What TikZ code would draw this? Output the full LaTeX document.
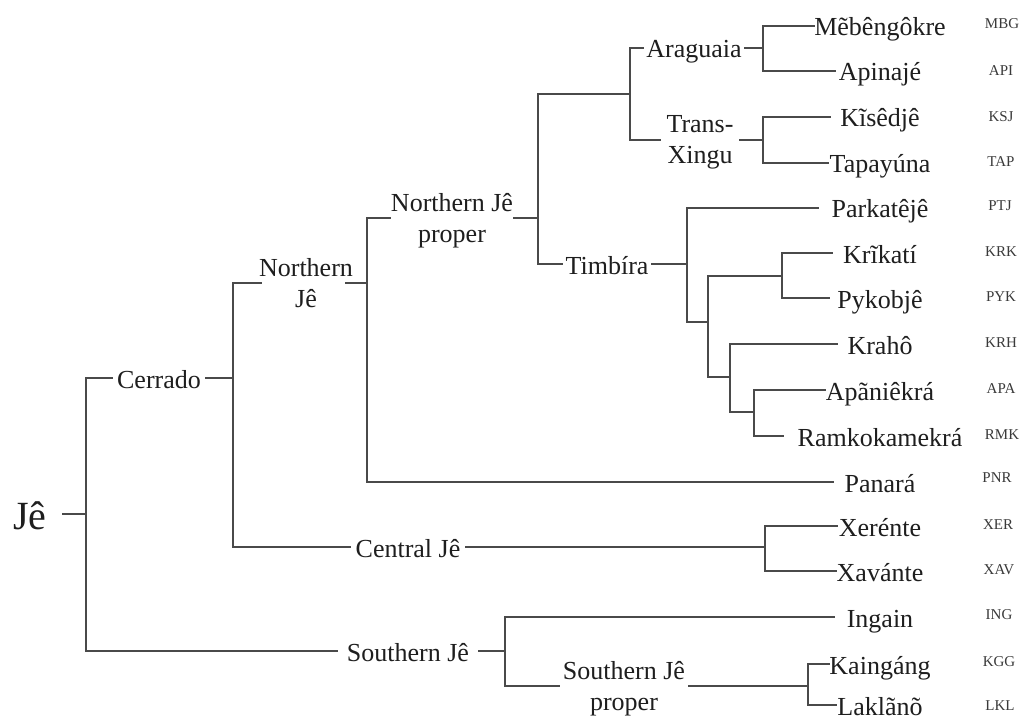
\documentclass[tikz,border=0pt]{standalone}
\usepackage{fontspec}
\setmainfont{Liberation Serif}
\definecolor{lineclr}{HTML}{4A4A4A}
\definecolor{txtclr}{HTML}{1E1E1E}
\definecolor{codeclr}{HTML}{3A3A3A}
\tikzset{
  br/.style={draw=lineclr, line width=1.4pt, line cap=rect},
  lbl/.style={font=\fontsize{26}{31}\selectfont, text=txtclr, inner ysep=0pt,
              text height=22pt, text depth=2pt},
  leaf/.style={lbl, inner xsep=#1},
  leaf/.default=1pt,
  inner/.style={lbl, inner xsep=#1},
  inner/.default=3pt,
  two/.style={align=center, text height=52pt, text depth=4pt},
  code/.style={font=\fontsize{15}{18}\selectfont, text=codeclr, inner sep=0pt}
}
\begin{document}
\begin{tikzpicture}[x=1pt,y=-1pt]
\useasboundingbox[fill=white] (0,0) rectangle (1024,719);

% vertical bar positions
\coordinate (xJe)  at (86,0);
\coordinate (xCer) at (233,0);
\coordinate (xNJ)  at (367,0);
\coordinate (xNJP) at (538,0);
\coordinate (xAT)  at (630,0);
\coordinate (xAra) at (763,0);
\coordinate (xTX)  at (763,0);
\coordinate (xTim) at (687,0);
\coordinate (xUa)  at (708,0);
\coordinate (xUb)  at (782,0);
\coordinate (xUc)  at (730,0);
\coordinate (xUd)  at (754,0);
\coordinate (xCen) at (765,0);
\coordinate (xSou) at (505,0);
\coordinate (xSJP) at (808,0);

% unlabelled clade points
\coordinate (at) at (630,94);
\coordinate (ua) at (708,322);
\coordinate (ub) at (782,276);
\coordinate (uc) at (730,377);
\coordinate (ud) at (754,412);

% internal labels
\node[lbl, font=\fontsize{40}{44}\selectfont, inner xsep=16pt, text height=30pt, text depth=0pt] (je) at (30,514) {Jê};
\node[inner=5pt] (cerrado) at (159,378) {Cerrado};
\node[inner=0pt, two] (nje) at (306,283) {Northern\\Jê};
\node[inner=0pt, two] (njep) at (452,218) {Northern Jê\\proper};
\node[inner=3pt] (araguaia) at (694,48) {Araguaia};
\node[inner=6pt, two] (transx) at (700,140) {Trans-\\Xingu};
\node[inner=3pt] (timbira) at (607,264) {Timbíra};
\node[inner=5pt] (central) at (408,547) {Central Jê};
\node[inner=9pt] (southern) at (408,651) {Southern Jê};
\node[inner=3pt, two] (sjp) at (624,686) {Southern Jê\\proper};

% leaves
\node[leaf=0pt]  (mbg) at (880,26)  {Mẽbêngôkre};
\node[leaf=3pt]  (api) at (880,71)  {Apinajé};
\node[leaf=10pt] (ksj) at (880,117) {Kĩsêdjê};
\node[leaf=1pt]  (tap) at (880,163) {Tapayúna};
\node[leaf=13pt] (ptj) at (880,208) {Parkatêjê};
\node[leaf=11pt] (krk) at (880,253) {Krĩkatí};
\node[leaf=8pt]  (pyk) at (880,298) {Pykobjê};
\node[leaf=10pt] (krh) at (880,344) {Krahô};
\node[leaf=0pt]  (apa) at (880,390) {Apãniêkrá};
\node[leaf=14pt] (rmk) at (880,436) {Ramkokamekrá};
\node[leaf=11pt] (pnr) at (880,482) {Panará};
\node[leaf=1pt]  (xer) at (880,526) {Xerénte};
\node[leaf=0pt]  (xav) at (880,571) {Xavánte};
\node[leaf=12pt] (ing) at (880,617) {Ingain};
\node[leaf=0pt]  (kgg) at (880,664) {Kaingáng};
\node[leaf=1pt, text height=20pt, text depth=0pt] (lkl) at (880,705) {Laklãnõ};

% codes
\node[code] (cmbg) at (1002,24)  {MBG};
\node[code] (capi) at (1001,71)  {API};
\node[code] (cksj) at (1001,117) {KSJ};
\node[code] (ctap) at (1001,162) {TAP};
\node[code] (cptj) at (1000,206) {PTJ};
\node[code] (ckrk) at (1001,252) {KRK};
\node[code] (cpyk) at (1001,297) {PYK};
\node[code] (ckrh) at (1001,343) {KRH};
\node[code] (capa) at (1001,389) {APA};
\node[code] (crmk) at (1002,435) {RMK};
\node[code] (cpnr) at (997,478)  {PNR};
\node[code] (cxer) at (998,525)  {XER};
\node[code] (cxav) at (999,570)  {XAV};
\node[code] (cing) at (999,615)  {ING};
\node[code] (ckgg) at (999,662)  {KGG};
\node[code] (clkl) at (1000,706) {LKL};

% connectors
\draw[br] (je.east) -- (je.east -| xJe);
\draw[br] (cerrado.west) -- (cerrado.west -| xJe) -- (southern.west -| xJe) -- (southern.west);

\draw[br] (cerrado.east) -- (cerrado.east -| xCer);
\draw[br] ([xshift=2pt]nje.west) -- (nje.west -| xCer) -- (central.west -| xCer) -- (central.west);

\draw[br] ([xshift=-7pt]nje.east) -- (nje.east -| xNJ);
\draw[br] (njep.west) -- (njep.west -| xNJ) -- (pnr.west -| xNJ) -- (pnr.west);

\draw[br] (njep.east) -- (njep.east -| xNJP);
\draw[br] (at) -- (at -| xNJP) -- (timbira.west -| xNJP) -- (timbira.west);

\draw[br] (araguaia.west) -- (araguaia.west -| xAT) -- (transx.west -| xAT) -- (transx.west);

\draw[br] (araguaia.east) -- (araguaia.east -| xAra);
\draw[br] (mbg.west) -- (mbg.west -| xAra) -- (api.west -| xAra) -- (api.west);

\draw[br] (transx.east) -- (transx.east -| xTX);
\draw[br] (ksj.west) -- (ksj.west -| xTX) -- (tap.west -| xTX) -- (tap.west);

\draw[br] (timbira.east) -- (timbira.east -| xTim);
\draw[br] (ptj.west) -- (ptj.west -| xTim) -- (ua -| xTim) -- (ua);

\draw[br] (ub) -- (ub -| xUa) -- (uc -| xUa) -- (uc);
\draw[br] (krk.west) -- (krk.west -| xUb) -- (pyk.west -| xUb) -- (pyk.west);
\draw[br] (krh.west) -- (krh.west -| xUc) -- (ud -| xUc) -- (ud);
\draw[br] (apa.west) -- (apa.west -| xUd) -- (rmk.west -| xUd) -- (rmk.west);

\draw[br] (central.east) -- (central.east -| xCen);
\draw[br] (xer.west) -- (xer.west -| xCen) -- (xav.west -| xCen) -- (xav.west);

\draw[br] (southern.east) -- (southern.east -| xSou);
\draw[br] (ing.west) -- (ing.west -| xSou) -- (sjp.west -| xSou) -- (sjp.west);

\draw[br] (sjp.east) -- (sjp.east -| xSJP);
\draw[br] (kgg.west) -- (kgg.west -| xSJP) -- (lkl.west -| xSJP) -- (lkl.west);
\end{tikzpicture}
\end{document}
